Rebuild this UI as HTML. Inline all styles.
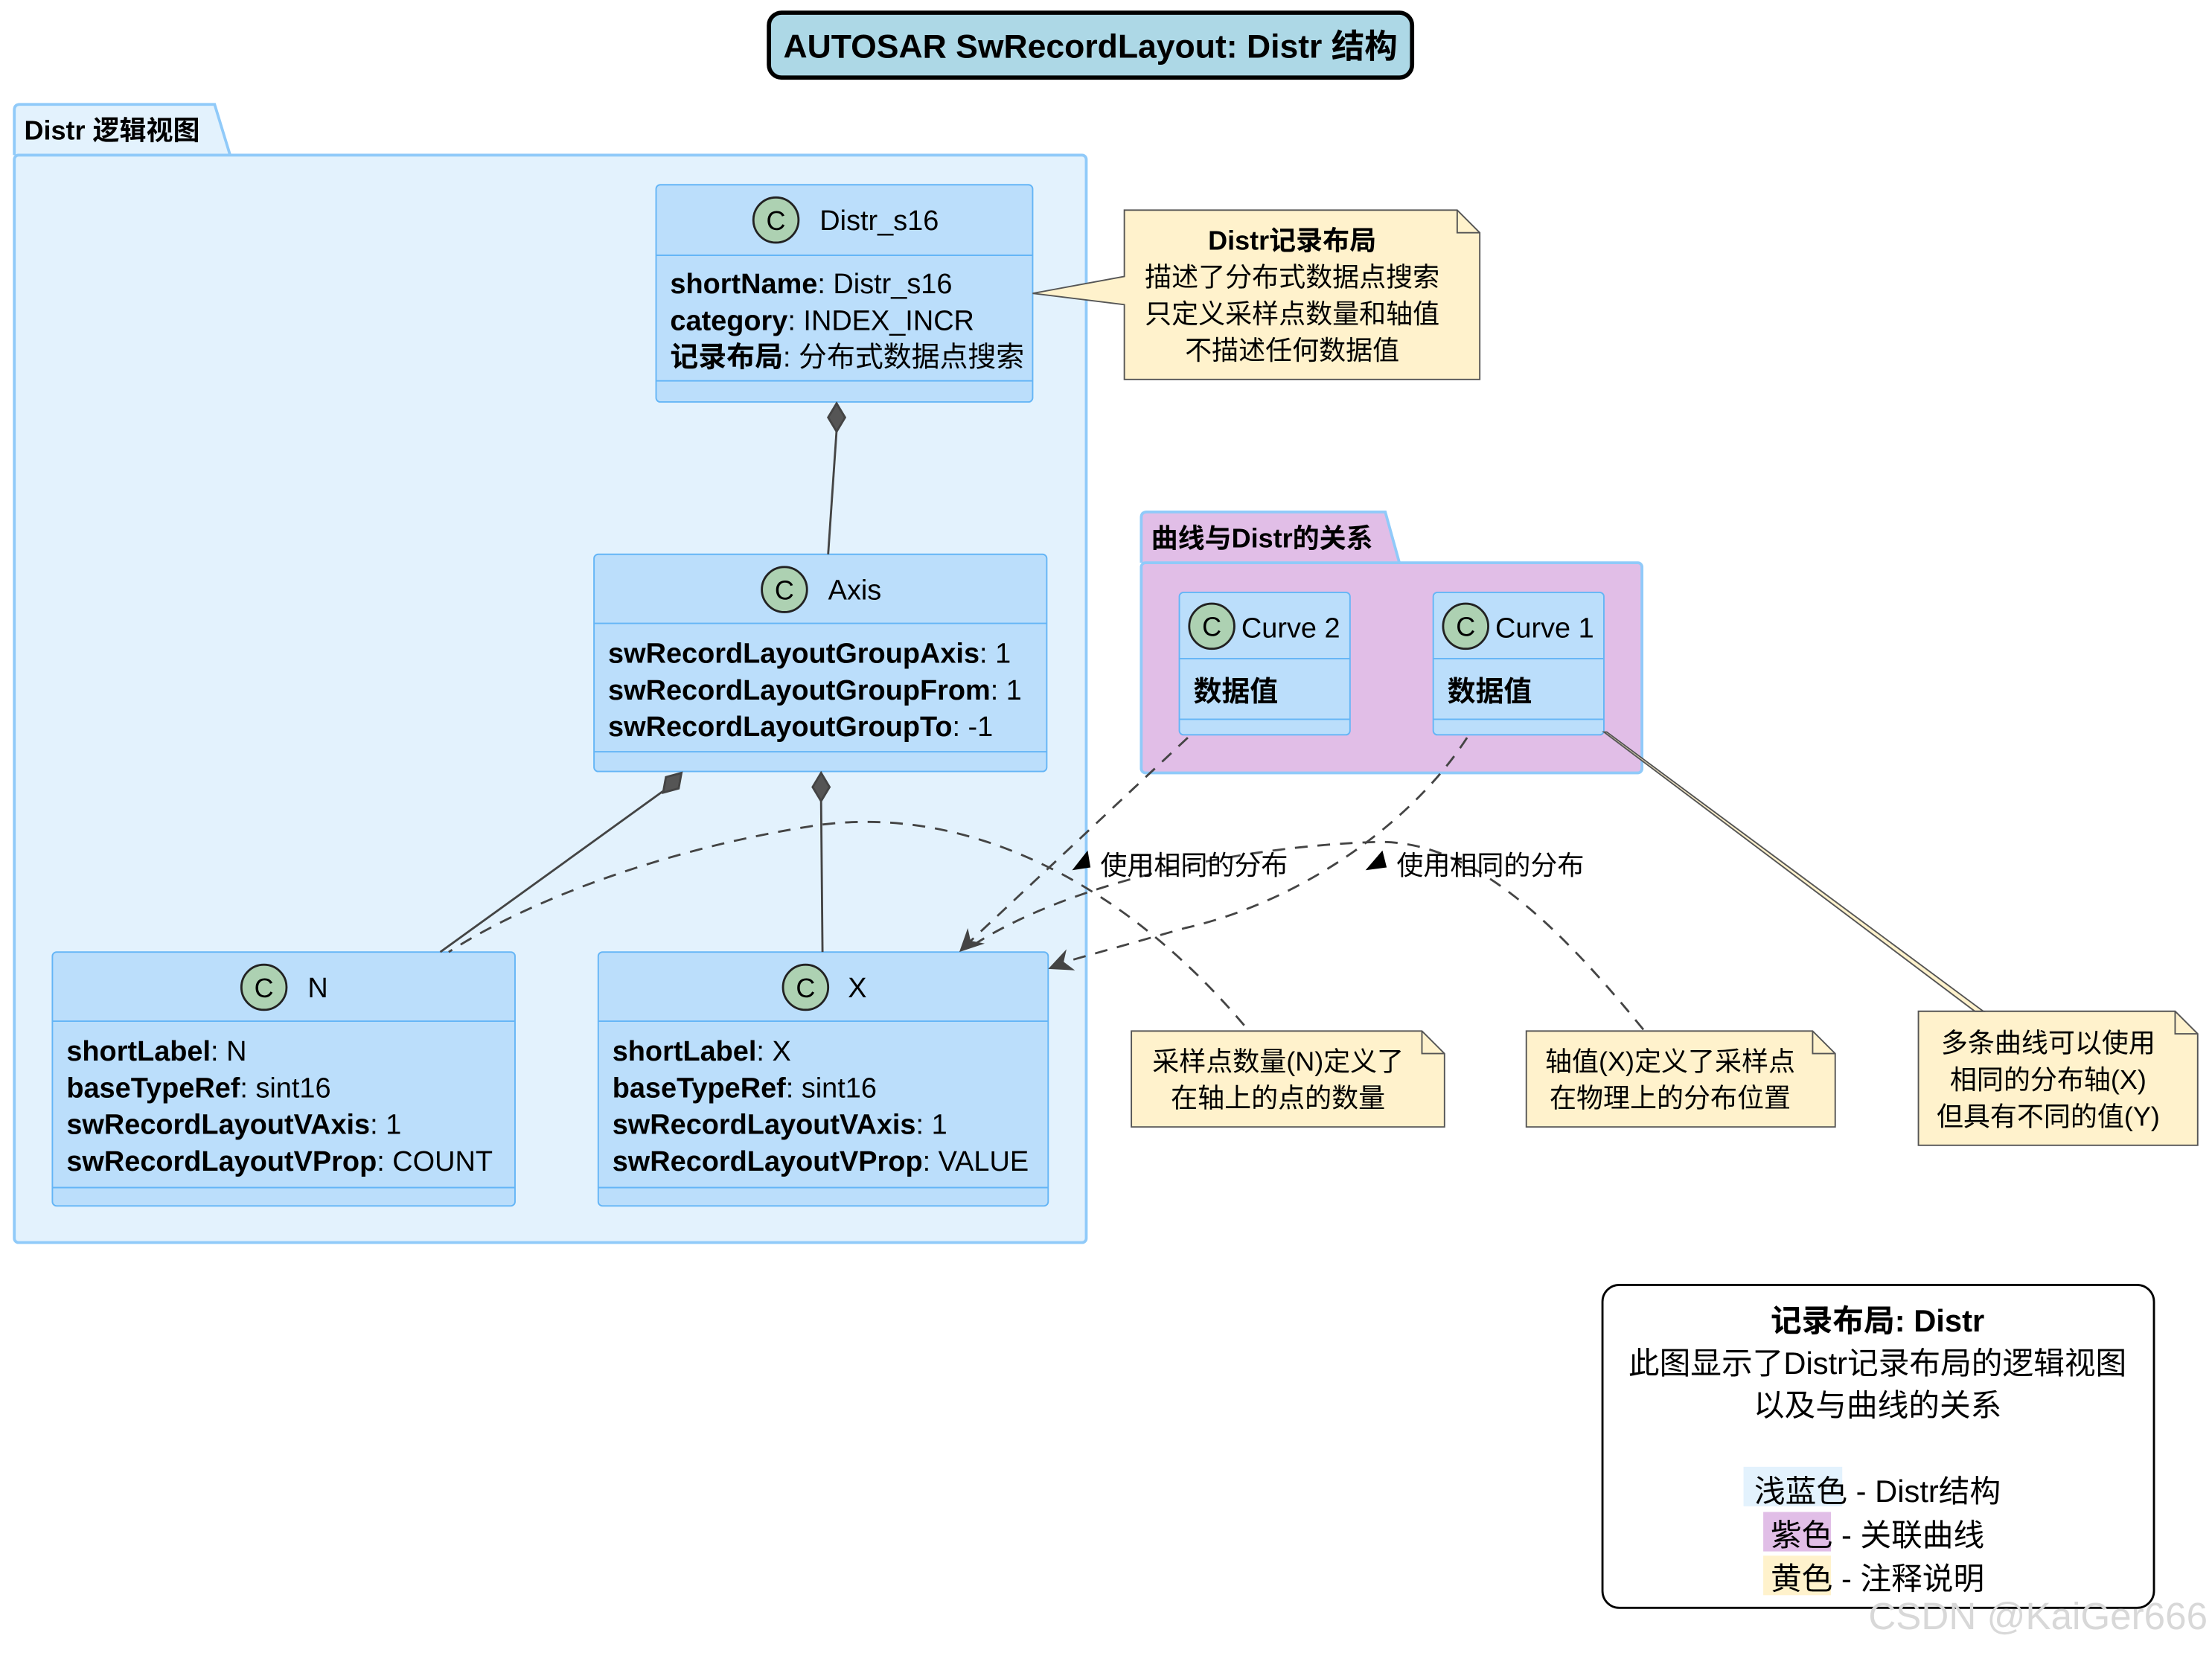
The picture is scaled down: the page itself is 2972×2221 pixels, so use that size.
<!DOCTYPE html>
<html><head><meta charset="utf-8"><style>
html,body{margin:0;padding:0;background:#fff}
svg{display:block}
text{font-family:"Liberation Sans","Noto Sans CJK SC",sans-serif;fill:#000}
.b{font-weight:bold}
</style></head><body>
<svg width="2972" height="2221" viewBox="0 0 1568 1172" xmlns="http://www.w3.org/2000/svg">
<!-- title -->
<rect x="545" y="9" width="456" height="46" rx="9" fill="#add8e6" stroke="#000" stroke-width="3"/>
<text x="773" y="41" font-size="23.5" class="b" text-anchor="middle">AUTOSAR SwRecordLayout: Distr 结构</text>

<!-- package Distr -->
<path d="M10,110 L10,78 Q10,74 14,74 L152,74 L163,110" fill="#e3f2fd" stroke="#90caf9" stroke-width="2"/>
<rect x="10" y="110" width="760" height="771" rx="3" fill="#e3f2fd" stroke="#90caf9" stroke-width="2"/>
<text x="17" y="99" font-size="19" class="b">Distr 逻辑视图</text>

<!-- package curves -->
<path d="M809,399 L809,367 Q809,363 813,363 L982,363 L992,399" fill="#e1bee7" stroke="#90caf9" stroke-width="2"/>
<rect x="809" y="399" width="355" height="149" rx="3" fill="#e1bee7" stroke="#90caf9" stroke-width="2"/>
<text x="816" y="388" font-size="19" class="b">曲线与Distr的关系</text>

<g stroke="#64b5f6" stroke-width="1" fill="#bbdefb">
<rect x="465" y="131" width="267" height="154" rx="3"/>
<line x1="465" y1="181" x2="732" y2="181"/><line x1="465" y1="270" x2="732" y2="270"/>
<rect x="421" y="393" width="321" height="154" rx="3"/>
<line x1="421" y1="442" x2="742" y2="442"/><line x1="421" y1="533" x2="742" y2="533"/>
<rect x="37" y="675" width="328" height="180" rx="3"/>
<line x1="37" y1="724" x2="365" y2="724"/><line x1="37" y1="842" x2="365" y2="842"/>
<rect x="424" y="675" width="319" height="180" rx="3"/>
<line x1="424" y1="724" x2="743" y2="724"/><line x1="424" y1="842" x2="743" y2="842"/>
<rect x="836" y="420" width="121" height="101" rx="3"/>
<line x1="836" y1="467" x2="957" y2="467"/><line x1="836" y1="510" x2="957" y2="510"/>
<rect x="1016" y="420" width="121" height="101" rx="3"/>
<line x1="1016" y1="467" x2="1137" y2="467"/><line x1="1016" y1="510" x2="1137" y2="510"/>
</g>

<g fill="#add1b2" stroke="#222" stroke-width="1.5">
<circle cx="550" cy="156" r="16"/><circle cx="556" cy="418" r="16"/>
<circle cx="187" cy="700" r="16"/><circle cx="571" cy="700" r="16"/>
<circle cx="859" cy="444" r="16"/><circle cx="1039" cy="444" r="16"/>
</g>
<g font-size="19" text-anchor="middle">
<text x="550" y="163">C</text><text x="556" y="425">C</text><text x="187" y="707">C</text>
<text x="571" y="707">C</text><text x="859" y="451">C</text><text x="1039" y="451">C</text>
</g>
<g font-size="20">
<text x="581" y="163">Distr_s16</text>
<text x="587" y="425">Axis</text>
<text x="218" y="707">N</text>
<text x="601" y="707">X</text>
<text x="880" y="452">Curve 2</text>
<text x="1060" y="452">Curve 1</text>

<text x="475" y="208"><tspan class="b">shortName</tspan>: Distr_s16</text>
<text x="475" y="234"><tspan class="b">category</tspan>: INDEX_INCR</text>
<text x="475" y="260"><tspan class="b">记录布局</tspan>: 分布式数据点搜索</text>

<text x="431" y="470"><tspan class="b">swRecordLayoutGroupAxis</tspan>: 1</text>
<text x="431" y="496"><tspan class="b">swRecordLayoutGroupFrom</tspan>: 1</text>
<text x="431" y="522"><tspan class="b">swRecordLayoutGroupTo</tspan>: -1</text>

<text x="47" y="752"><tspan class="b">shortLabel</tspan>: N</text>
<text x="47" y="778"><tspan class="b">baseTypeRef</tspan>: sint16</text>
<text x="47" y="804"><tspan class="b">swRecordLayoutVAxis</tspan>: 1</text>
<text x="47" y="830"><tspan class="b">swRecordLayoutVProp</tspan>: COUNT</text>

<text x="434" y="752"><tspan class="b">shortLabel</tspan>: X</text>
<text x="434" y="778"><tspan class="b">baseTypeRef</tspan>: sint16</text>
<text x="434" y="804"><tspan class="b">swRecordLayoutVAxis</tspan>: 1</text>
<text x="434" y="830"><tspan class="b">swRecordLayoutVProp</tspan>: VALUE</text>

<text x="846" y="497" class="b">数据值</text>
<text x="1026" y="497" class="b">数据值</text>
</g>

<g stroke="#444" stroke-width="1.5" fill="#555">
<line x1="593" y1="305" x2="587" y2="393"/>
<path d="M593,286 L599,296 L593,306 L587,296 Z"/>
<line x1="474" y1="558" x2="312" y2="675"/>
<path d="M483,548 L481,559 L470,562 L472,551 Z"/>
<line x1="582" y1="568" x2="583" y2="675"/>
<path d="M582,548 L588,558 L582,568 L576,558 Z"/>
</g>

<g stroke="#444" stroke-width="1.5" fill="none" stroke-dasharray="9,7">
<path d="M842,523 L685,670"/>
<path d="M1040,523 C1000,585 920,640 840,658 L748,684"/>
<path d="M882,727 C800,630 690,570 580,585 C480,600 380,635 318,675"/>
<path d="M1165,730 C1100,650 1040,595 975,597 C880,600 760,625 690,670"/>
</g>
<g fill="#444">
<path d="M680,675 L686,658 L688,667 L698,669 Z"/>
<path d="M743,687 L756,673 L754,682 L762,688 Z"/>
</g>
<g fill="#000">
<path d="M760,617 L771,603 L773,615 Z"/>
<path d="M968,617 L980,603 L983,615 Z"/>
</g>
<g font-size="19">
<text x="780" y="620">使用相同的分布</text>
<text x="990" y="620">使用相同的分布</text>
</g>

<g fill="#fff2cc" stroke="#555" stroke-width="1">
<path d="M797,149 L1033,149 L1049,165 L1049,269 L797,269 L797,216 L732,208 L797,196 Z"/>
<path d="M802,731 L1008,731 L1024,747 L1024,799 L802,799 Z"/>
<path d="M1082,731 L1285,731 L1301,747 L1301,799 L1082,799 Z"/>
<path d="M1360,717 L1542,717 L1558,733 L1558,812 L1360,812 Z"/>
<path d="M1137,519 L1400,717 L1406,717 L1139,519 Z"/>
</g>
<g fill="none" stroke="#555" stroke-width="1">
<path d="M1033,149 L1033,165 L1049,165"/>
<path d="M1008,731 L1008,747 L1024,747"/>
<path d="M1285,731 L1285,747 L1301,747"/>
<path d="M1542,717 L1542,733 L1558,733"/>
</g>
<g font-size="19" text-anchor="middle">
<text x="916" y="177" class="b">Distr记录布局</text>
<text x="916" y="203">描述了分布式数据点搜索</text>
<text x="916" y="229">只定义采样点数量和轴值</text>
<text x="916" y="255">不描述任何数据值</text>
<text x="906" y="759">采样点数量(N)定义了</text>
<text x="906" y="785">在轴上的点的数量</text>
<text x="1184" y="759">轴值(X)定义了采样点</text>
<text x="1184" y="785">在物理上的分布位置</text>
<text x="1452" y="746">多条曲线可以使用</text>
<text x="1452" y="772">相同的分布轴(X)</text>
<text x="1452" y="798">但具有不同的值(Y)</text>
</g>

<rect x="1136" y="911" width="391" height="229" rx="12" fill="#fff" stroke="#000" stroke-width="1.5"/>
<rect x="1236" y="1040" width="70" height="28" fill="#e3f2fd"/>
<rect x="1250" y="1072" width="48" height="28" fill="#e1bee7"/>
<rect x="1250" y="1103" width="48" height="28" fill="#fff2cc"/>
<g font-size="22" text-anchor="middle">
<text x="1331" y="944" class="b">记录布局: Distr</text>
<text x="1331" y="974">此图显示了Distr记录布局的逻辑视图</text>
<text x="1331" y="1004">以及与曲线的关系</text>
<text x="1331" y="1065">浅蓝色 - Distr结构</text>
<text x="1331" y="1096">紫色 - 关联曲线</text>
<text x="1331" y="1127">黄色 - 注释说明</text>
</g>
<text x="1565" y="1155" font-size="27" text-anchor="end" style="fill:#d8d8d8">CSDN @KaiGer666</text>
</svg>
</body></html>
